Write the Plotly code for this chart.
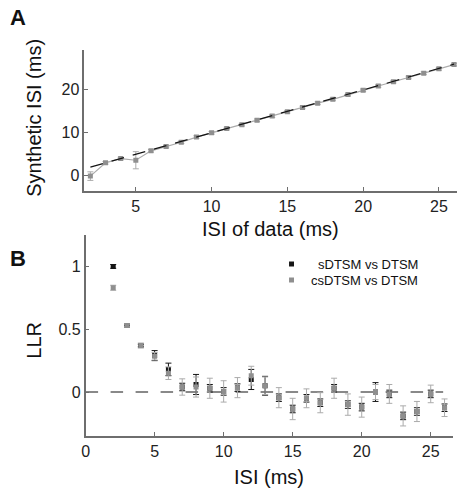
import plotly.graph_objects as go

# Panel A data
isi_data = list(range(2, 27))
synth_isi = [-0.1, 3.0, 4.0, 3.6, 5.8, 6.8, 7.8, 9.0, 10.0, 11.0, 11.9, 12.9, 13.9, 14.9,
             15.9, 16.9, 17.8, 18.9, 19.9, 20.9, 21.9, 22.9, 23.9, 24.9, 25.9]
synth_err = [1.0, 0.3, 0.3, 2.0, 0.3, 0.3, 0.3, 0.3, 0.3, 0.3, 0.3, 0.3, 0.3, 0.3,
             0.3, 0.3, 0.3, 0.3, 0.3, 0.3, 0.3, 0.3, 0.3, 0.3, 0.3]
identity_x = [2, 26]

# Panel B data
isi_b = list(range(2, 27))
llr_cs = [0.83, 0.53, 0.37, 0.285, 0.15, 0.04, 0.04, 0.03, 0.005, 0.035, 0.13, 0.05,
          -0.045, -0.135, -0.05, -0.085, 0.03, -0.10, -0.12, 0.0, -0.015, -0.19, -0.155, -0.015, -0.125]
err_cs = [0.02, 0.01, 0.02, 0.03, 0.05, 0.065, 0.08, 0.08, 0.085, 0.08, 0.075, 0.07,
          0.08, 0.085, 0.075, 0.08, 0.08, 0.085, 0.08, 0.06, 0.075, 0.08, 0.08, 0.07, 0.07]
llr_s = [1.0, 0.53, 0.37, 0.29, 0.18, 0.04, 0.06, 0.03, 0.005, 0.035, 0.10, 0.05,
         -0.045, -0.135, -0.05, -0.085, 0.03, -0.10, -0.12, 0.0, -0.015, -0.19, -0.155, -0.015, -0.125]
err_s = [0.015, 0.005, 0.01, 0.04, 0.05, 0.03, 0.08, 0.03, 0.03, 0.03, 0.08, 0.075,
         0.03, 0.03, 0.03, 0.03, 0.03, 0.03, 0.03, 0.075, 0.03, 0.03, 0.03, 0.03, 0.03]
zero_x = [0, 25.9]

GRAY = "#8f8f8f"
EGRAY = "#ababab"
BLACK = "#151515"
AX = "#6e6e6e"
FONT = "Liberation Sans, Arial, sans-serif"

fig = go.Figure()

# Panel A
fig.add_trace(go.Scatter(x=isi_data, y=synth_isi, mode="lines+markers",
                         line=dict(color=EGRAY, width=1.2),
                         marker=dict(symbol="square", size=5, color=GRAY),
                         error_y=dict(type="data", array=synth_err, color=EGRAY, thickness=1, width=3),
                         xaxis="x", yaxis="y", showlegend=False))
fig.add_trace(go.Scatter(x=identity_x, y=identity_x, mode="lines",
                         line=dict(color=BLACK, width=1.2, dash="13px,9px"),
                         xaxis="x", yaxis="y", showlegend=False))

# Panel B
fig.add_trace(go.Scatter(x=zero_x, y=[0, 0], mode="lines",
                         line=dict(color=BLACK, width=1.1, dash="12.5px,12.5px"),
                         xaxis="x2", yaxis="y2", showlegend=False))
fig.add_trace(go.Scatter(x=isi_b, y=llr_s, mode="markers", name="sDTSM vs DTSM",
                         marker=dict(symbol="square", size=5, color=BLACK),
                         error_y=dict(type="data", array=err_s, color=BLACK, thickness=1, width=3),
                         xaxis="x2", yaxis="y2", showlegend=False))
fig.add_trace(go.Scatter(x=isi_b, y=llr_cs, mode="markers", name="csDTSM vs DTSM",
                         marker=dict(symbol="square", size=5, color=GRAY),
                         error_y=dict(type="data", array=err_cs, color=EGRAY, thickness=1, width=3),
                         xaxis="x2", yaxis="y2", showlegend=False))

W, H = 466, 492
def px(x): return x / W
def py(y): return 1 - y / H

axis_common = dict(showgrid=False, zeroline=False, showline=True, linecolor=AX, linewidth=1.5,
                   ticks="inside", ticklen=4, tickcolor=AX, tickwidth=1.2,
                   tickfont=dict(family=FONT, size=16, color="#222"))

fig.update_layout(
    width=W, height=H, margin=dict(l=0, r=0, t=0, b=0),
    plot_bgcolor="white", paper_bgcolor="white",
    xaxis=dict(domain=[px(81), px(457)], range=[1.6, 26.2], anchor="y",
               tickvals=[5, 10, 15, 20, 25], **axis_common),
    yaxis=dict(domain=[py(190.7), py(50)], range=[-3.5, 29.3], anchor="x",
               tickvals=[0, 10, 20], **axis_common),
    xaxis2=dict(domain=[px(82.3), px(452.7)], range=[0, 26.6], anchor="y2",
                tickvals=[0, 5, 10, 15, 20, 25], **axis_common),
    yaxis2=dict(domain=[py(436), py(235)], range=[-0.35, 1.25], anchor="x2",
                tickvals=[0, 0.5, 1], ticktext=["0", "0.5", "1"], **axis_common),
    showlegend=False,
)

ann = [
    dict(text="<b>A</b>", x=px(4), y=py(3), xanchor="left", yanchor="top", font=dict(size=22)),
    dict(text="<b>B</b>", x=px(4), y=py(244), xanchor="left", yanchor="top", font=dict(size=22)),
    dict(text="Synthetic ISI (ms)", x=px(30), y=py(118), textangle=-90, font=dict(size=20)),
    dict(text="ISI of data (ms)", x=px(269), y=py(229), font=dict(size=20)),
    dict(text="LLR", x=px(30), y=py(340), textangle=-90, font=dict(size=20)),
    dict(text="ISI (ms)", x=px(267), y=py(477), font=dict(size=20)),
    dict(text="sDTSM vs DTSM", x=px(420), y=py(264), xanchor="right", font=dict(size=13)),
    dict(text="csDTSM vs DTSM", x=px(420), y=py(280), xanchor="right", font=dict(size=13)),
]
for a in ann:
    a.update(xref="paper", yref="paper", showarrow=False)
    a["font"].update(family=FONT, color="#111")
    if "xanchor" not in a:
        a["xanchor"] = "center"
    if "yanchor" not in a:
        a["yanchor"] = "middle"
fig.update_layout(annotations=ann)

fig.add_shape(type="rect", xref="paper", yref="paper",
              x0=px(287.5), x1=px(292.5), y0=py(266.5), y1=py(261.5),
              fillcolor=BLACK, line=dict(width=0))
fig.add_shape(type="rect", xref="paper", yref="paper",
              x0=px(287.5), x1=px(292.5), y0=py(282.5), y1=py(277.5),
              fillcolor=GRAY, line=dict(width=0))

fig.write_html("out.html", config={"displayModeBar": False},
               post_script="document.body.style.margin='0';document.body.style.overflow='hidden';")
